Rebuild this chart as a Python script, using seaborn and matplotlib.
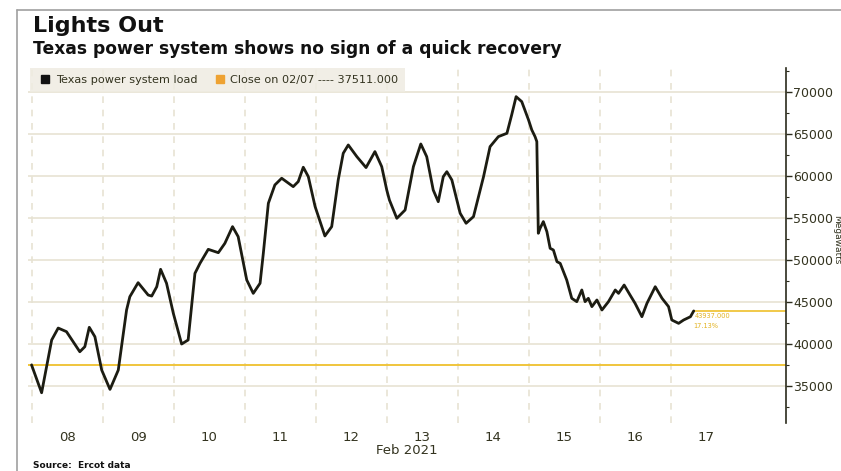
import matplotlib
matplotlib.use("Agg")
import matplotlib.pyplot as plt
from matplotlib.lines import Line2D
from matplotlib.ticker import MultipleLocator, FuncFormatter
import pandas as pd
import seaborn as sns

# ERCOT system load, hours after 2021-02-08 00:00 (local) and megawatts
hours = [0, 3.4, 6.8, 9.0, 11.8, 16.3, 18.0, 19.5, 21.4, 23.7, 26.5, 29.3,
         32.1, 33.2, 36.0, 39.4, 40.6, 42.3, 43.6, 45.6, 47.9, 50.7, 52.9,
         55.2, 56.9, 59.7, 63.1, 65.3, 67.9, 69.8, 72.7, 74.9, 77.2, 78.3,
         80.0, 82.2, 84.5, 88.4, 90.1, 91.8, 93.5, 95.8, 99.1, 101.4, 103.6,
         105.3, 107.0, 109.9, 113.0, 116.0, 118.3, 120.0, 120.9, 123.4,
         126.2, 129.0, 131.5, 133.5, 135.7, 137.4, 139.1, 140.3, 142.0,
         144.8, 146.8, 149.3, 152.7, 154.9, 157.7, 160.6, 162.2, 163.7,
         165.6, 167.9, 169.0, 170.1, 170.7, 171.2, 171.8, 172.9, 174.1,
         175.2, 176.3, 177.5, 178.6, 180.8, 182.5, 184.2, 185.9, 187.0,
         188.1, 189.3, 191.0, 192.7, 194.9, 197.2, 198.3, 200.2, 202.2,
         203.9, 206.2, 207.9, 210.7, 213.0, 215.2, 216.3, 218.6, 220.3,
         222.6, 223.7]
load_mw = [37511, 34200, 40480, 41900, 41470, 39080, 39680, 41990, 40870,
           36900, 34600, 36900, 44050, 45630, 47300, 45830, 45710, 46820,
           48890, 47230, 43650, 40000, 40480, 48410, 49600, 51270, 50870,
           51980, 53970, 52780, 47620, 46030, 47230, 50790, 56750, 58930,
           59730, 58730, 59330, 61040, 59920, 56350, 52860, 53970, 59520,
           62700, 63690, 62300, 61000, 62900, 61110, 58330, 57140, 54960,
           55950, 61110, 63810, 62300, 58330, 56940, 59920, 60510, 59520,
           55560, 54370, 55160, 59920, 63490, 64680, 65080, 67260, 69440,
           68850, 66670, 65480, 64680, 64090, 53180, 53770, 54570, 53370,
           51390, 51190, 49800, 49600, 47620, 45440, 45040, 46430, 45040,
           45440, 44450, 45240, 44050, 45040, 46430, 46030, 47020, 45830,
           44840, 43250, 44840, 46820, 45440, 44450, 42860, 42460, 42860,
           43250, 43937]

close_0207 = 37511.0
day_labels = ["08", "09", "10", "11", "12", "13", "14", "15", "16", "17"]

start = pd.Timestamp("2021-02-08 00:00")
df = pd.DataFrame({"time": start + pd.to_timedelta(hours, unit="h"),
                   "load": load_mw})

sns.set_theme(style="white")
plt.rcParams["font.family"] = ["DejaVu Sans"]

W, H = 841, 471
fig = plt.figure(figsize=(W / 100, H / 100), dpi=100)
fig.patch.set_facecolor("white")

left, right, top, bottom = 28, 786, 68, 423
ax = fig.add_axes([left / W, 1 - bottom / H, (right - left) / W, (bottom - top) / H])
ax.set_facecolor("white")

ink = "#2b2b1c"
label_c = "#33331f"
grid_c = "#e7e3d3"
gold = "#f0c53c"

# reference line for the 02/07 close
ax.axhline(close_0207, color=gold, lw=1.4, zorder=2)

sns.lineplot(data=df, x="time", y="load", ax=ax, color="#1c1c12",
             linewidth=2.0, legend=False, zorder=3)

last_t = df["time"].iloc[-1]
last_v = df["load"].iloc[-1]
x_end = start + pd.Timedelta(days=10.62)
ax.hlines(last_v, last_t, x_end, color=gold, lw=1.3, zorder=2)
pct = (last_v / close_0207 - 1) * 100
ax.annotate(f"{last_v:.3f}", xy=(last_t, last_v), xytext=(1, -1.5),
            textcoords="offset points", fontsize=4.8, color="#e2b220",
            va="top", ha="left")
ax.annotate(f"{pct:.2f}%", xy=(last_t, last_v), xytext=(0, -8.5),
            textcoords="offset points", fontsize=4.8, color="#e2b220",
            va="top", ha="left")

ax.set_xlim(start - pd.Timedelta(days=0.05), x_end)
ax.set_ylim(30600, 72850)

# y axis on the right
ax.yaxis.tick_right()
ax.yaxis.set_major_locator(MultipleLocator(5000))
ax.yaxis.set_minor_locator(MultipleLocator(2500))
ax.yaxis.set_major_formatter(FuncFormatter(lambda v, p: f"{int(v)}"))
ax.tick_params(axis="y", which="major", direction="out", length=4, width=1,
               color=ink, labelsize=9, labelcolor=label_c, pad=1)
ax.tick_params(axis="y", which="minor", direction="out", length=2, width=0.8,
               color=ink)
ax.set_ylabel("")
fig.text(837 / W, 1 - 240 / H, "Megawatts", rotation=270, fontsize=6.5,
         color=label_c, ha="center", va="center")

# x axis: day labels at noon, dashed separators at midnight
noon = [start + pd.Timedelta(days=i, hours=12) for i in range(len(day_labels))]
midnight = [start + pd.Timedelta(days=i) for i in range(len(day_labels))]
ax.set_xticks(noon)
ax.set_xticklabels(day_labels)
ax.tick_params(axis="x", which="both", length=0, labelsize=9.5,
               labelcolor=label_c, pad=6)
for m in midnight:
    ax.axvline(m, color=grid_c, lw=1.2, ls=(0, (4, 4)), zorder=1)
ax.set_xlabel("Feb 2021", fontsize=9.5, color=label_c, labelpad=0)

ax.grid(axis="y", which="major", color=grid_c, lw=1.2, zorder=1)
ax.grid(axis="x", visible=False)
for s in ["top", "left", "bottom"]:
    ax.spines[s].set_visible(False)
ax.spines["right"].set_color(ink)
ax.spines["right"].set_linewidth(1.2)

# legend strip
handles = [Line2D([], [], ls="none", marker="s", markersize=5.5, color="#111111"),
           Line2D([], [], ls="none", marker="s", markersize=5.5, color="#eea232")]
labels = ["Texas power system load", "Close on 02/07 ---- 37511.000"]
leg = ax.legend(handles, labels, ncol=2, loc="upper left",
                bbox_to_anchor=(0.003, 1.0), frameon=True, fancybox=False,
                fontsize=8.1, handlelength=1.4, handletextpad=0.25,
                columnspacing=1.3, borderpad=0.6, borderaxespad=0)
leg.get_frame().set_facecolor("#efece2")
leg.get_frame().set_alpha(0.85)
leg.get_frame().set_linewidth(0)
for t in leg.get_texts():
    t.set_color(label_c)

# titles and source
fig.text(33 / W, 1 - 32 / H, "Lights Out", fontsize=16, fontweight="bold",
         color="#111111", ha="left", va="baseline")
fig.text(33 / W, 1 - 54 / H, "Texas power system shows no sign of a quick recovery",
         fontsize=12.3, fontweight="bold", color="#111111", ha="left",
         va="baseline")
fig.text(33 / W, 1 - 468 / H, "Source:  Ercot data", fontsize=6.5,
         fontweight="bold", color="#111111", ha="left", va="baseline")

# outer frame
fx, fy = 17 / W, 1 - 10 / H
fig.add_artist(Line2D([fx, 1.0], [fy, fy], transform=fig.transFigure,
                      color="#a0a0a0", lw=1.2))
fig.add_artist(Line2D([fx, fx], [0.0, fy], transform=fig.transFigure,
                      color="#a0a0a0", lw=1.2))

fig.savefig("out.png", dpi=100)
